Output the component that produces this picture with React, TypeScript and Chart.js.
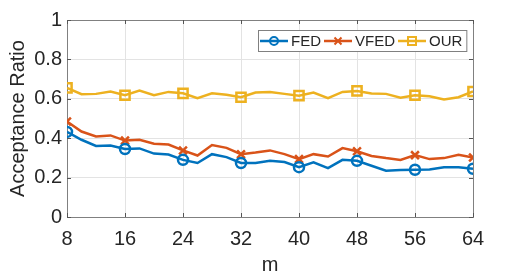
import React, { useEffect, useRef } from 'react';
import { Chart, registerables } from 'chart.js';
Chart.register(...registerables);

const mValues = [8, 10, 12, 14, 16, 18, 20, 22, 24, 26, 28, 30, 32, 34, 36, 38, 40, 42, 44, 46, 48, 50, 52, 54, 56, 58, 60, 62, 64];
const fed = [0.432, 0.392, 0.361, 0.363, 0.345, 0.348, 0.322, 0.317, 0.29, 0.274, 0.319, 0.304, 0.274, 0.274, 0.285, 0.279, 0.253, 0.277, 0.248, 0.29, 0.285, 0.26, 0.235, 0.238, 0.24, 0.241, 0.253, 0.253, 0.245];
const vfed = [0.485, 0.434, 0.409, 0.414, 0.388, 0.392, 0.372, 0.368, 0.338, 0.312, 0.365, 0.351, 0.319, 0.327, 0.338, 0.319, 0.294, 0.319, 0.307, 0.35, 0.334, 0.31, 0.299, 0.29, 0.314, 0.294, 0.299, 0.316, 0.302];
const our = [0.655, 0.623, 0.625, 0.637, 0.618, 0.642, 0.618, 0.635, 0.628, 0.603, 0.628, 0.62, 0.608, 0.632, 0.635, 0.625, 0.616, 0.632, 0.603, 0.635, 0.64, 0.627, 0.625, 0.606, 0.618, 0.613, 0.596, 0.608, 0.637];
const markerM = [8, 16, 24, 32, 40, 48, 56, 64];
const seriesNames = ['FED', 'VFED', 'OUR'];
const seriesColors = ['#0072BD', '#D95319', '#EDB120'];
const seriesStyles = ['circle', 'crossRot', 'rect'];
const xTitle = 'm';
const yTitle = 'Acceptance Ratio';

const FONT = "'Liberation Sans', Arial, sans-serif";

function drawMarker(ctx: CanvasRenderingContext2D, style: string, x: number, y: number, color: string) {
  ctx.save();
  ctx.strokeStyle = color;
  ctx.lineWidth = 2;
  ctx.beginPath();
  if (style === 'circle') {
    ctx.arc(x, y, 4, 0, Math.PI * 2);
  } else if (style === 'crossRot') {
    const s = 3.5;
    ctx.moveTo(x - s, y - s); ctx.lineTo(x + s, y + s);
    ctx.moveTo(x - s, y + s); ctx.lineTo(x + s, y - s);
  } else {
    ctx.rect(x - 4, y - 4, 8, 8);
  }
  ctx.stroke();
  ctx.restore();
}

const boxPlugin = {
  id: 'matlabBox',
  beforeDatasetsDraw(chart: any) {
    const { ctx, chartArea: a, scales } = chart;
    ctx.save();
    ctx.strokeStyle = '#808080';
    ctx.lineWidth = 1;
    ctx.strokeRect(Math.round(a.left) + 0.5, Math.round(a.top) + 0.5, Math.round(a.right - a.left), Math.round(a.bottom - a.top));
    ctx.strokeStyle = '#555';
    ctx.beginPath();
    const tl = 4;
    scales.x.ticks.forEach((t: any) => {
      const px = Math.round(scales.x.getPixelForValue(t.value)) + 0.5;
      ctx.moveTo(px, a.bottom); ctx.lineTo(px, a.bottom - tl);
      ctx.moveTo(px, a.top); ctx.lineTo(px, a.top + tl);
    });
    scales.y.ticks.forEach((t: any) => {
      const py = Math.round(scales.y.getPixelForValue(t.value)) + 0.5;
      ctx.moveTo(a.left, py); ctx.lineTo(a.left + tl, py);
      ctx.moveTo(a.right, py); ctx.lineTo(a.right - tl, py);
    });
    ctx.stroke();
    ctx.restore();
  },
};

const legendPlugin = {
  id: 'matlabLegend',
  afterDraw(chart: any) {
    const { ctx } = chart;
    ctx.save();
    ctx.font = `15px ${FONT}`;
    const left = 258;
    const top = 30;
    const h = 21;
    const lineLen = 28;
    const items: { x: number; tx: number; w: number }[] = [];
    let x = left + 2;
    seriesNames.forEach((n) => {
      const w = ctx.measureText(n).width;
      items.push({ x, tx: x + lineLen + 3, w });
      x = x + lineLen + 3 + w + 3;
    });
    const right = x + 1;
    ctx.fillStyle = '#fff';
    ctx.fillRect(left, top, right - left, h);
    ctx.strokeStyle = '#808080';
    ctx.lineWidth = 1;
    ctx.strokeRect(left + 0.5, top + 0.5, right - left, h);
    const cy = top + h / 2 + 0.5;
    seriesNames.forEach((n, i) => {
      const it = items[i];
      ctx.strokeStyle = seriesColors[i];
      ctx.lineWidth = 2.5;
      ctx.beginPath();
      ctx.moveTo(it.x, cy); ctx.lineTo(it.x + lineLen, cy);
      ctx.stroke();
      drawMarker(ctx, seriesStyles[i], it.x + lineLen / 2, cy, seriesColors[i]);
      ctx.fillStyle = '#262626';
      ctx.textBaseline = 'middle';
      ctx.textAlign = 'left';
      ctx.fillText(n, it.tx, cy + 0.5);
    });
    ctx.restore();
  },
};

export default function App() {
  const ref = useRef<HTMLCanvasElement>(null);
  useEffect(() => {
    document.body.style.margin = '0';
    const seriesData = [fed, vfed, our];
    const chart = new Chart(ref.current!, {
      type: 'line',
      data: {
        datasets: seriesData.map((vals, i) => ({
          label: seriesNames[i],
          data: mValues.map((m, j) => ({ x: m, y: vals[j] })),
          borderColor: seriesColors[i],
          backgroundColor: 'rgba(0,0,0,0)',
          borderWidth: 2.5,
          tension: 0,
          pointStyle: seriesStyles[i] as any,
          pointBorderColor: seriesColors[i],
          pointBackgroundColor: 'rgba(0,0,0,0)',
          pointBorderWidth: 2.5,
          pointRadius: (c: any) => (markerM.includes(mValues[c.dataIndex]) ? (i === 0 ? 5 : i === 1 ? 5.5 : 6.5) : 0),
          pointHoverRadius: 0,
        })),
      },
      options: {
        animation: false,
        responsive: true,
        maintainAspectRatio: false,
        layout: { padding: { top: 20, right: 50, left: 0, bottom: 0 } },
        plugins: { legend: { display: false }, tooltip: { enabled: false } },
        scales: {
          x: {
            type: 'linear',
            min: 8,
            max: 64,
            afterFit: (s: any) => { s.height = 62; },
            ticks: { stepSize: 8, color: '#262626', font: { family: FONT, size: 20 }, padding: 10, maxRotation: 0 },
            grid: { color: '#e3e3e3', drawTicks: false },
            border: { display: false },
            title: { display: true, text: xTitle, color: '#262626', font: { family: FONT, size: 20 }, padding: { top: 0, bottom: 2 } },
          },
          y: {
            min: 0,
            max: 1,
            afterFit: (s: any) => { s.width = 67; },
            ticks: {
              stepSize: 0.2,
              color: '#262626',
              font: { family: FONT, size: 20 },
              padding: 5,
              callback: (v: any) => String(Number(Number(v).toFixed(1))),
            },
            grid: { color: '#e3e3e3', drawTicks: false },
            border: { display: false },
            title: { display: true, text: yTitle, color: '#262626', font: { family: FONT, size: 20 }, padding: { top: 6, bottom: 0 } },
          },
        },
      },
      plugins: [boxPlugin, legendPlugin],
    });
    return () => chart.destroy();
  }, []);
  return (
    <div style={{ position: 'relative', width: 523, height: 279 }}>
      <canvas ref={ref} />
    </div>
  );
}
